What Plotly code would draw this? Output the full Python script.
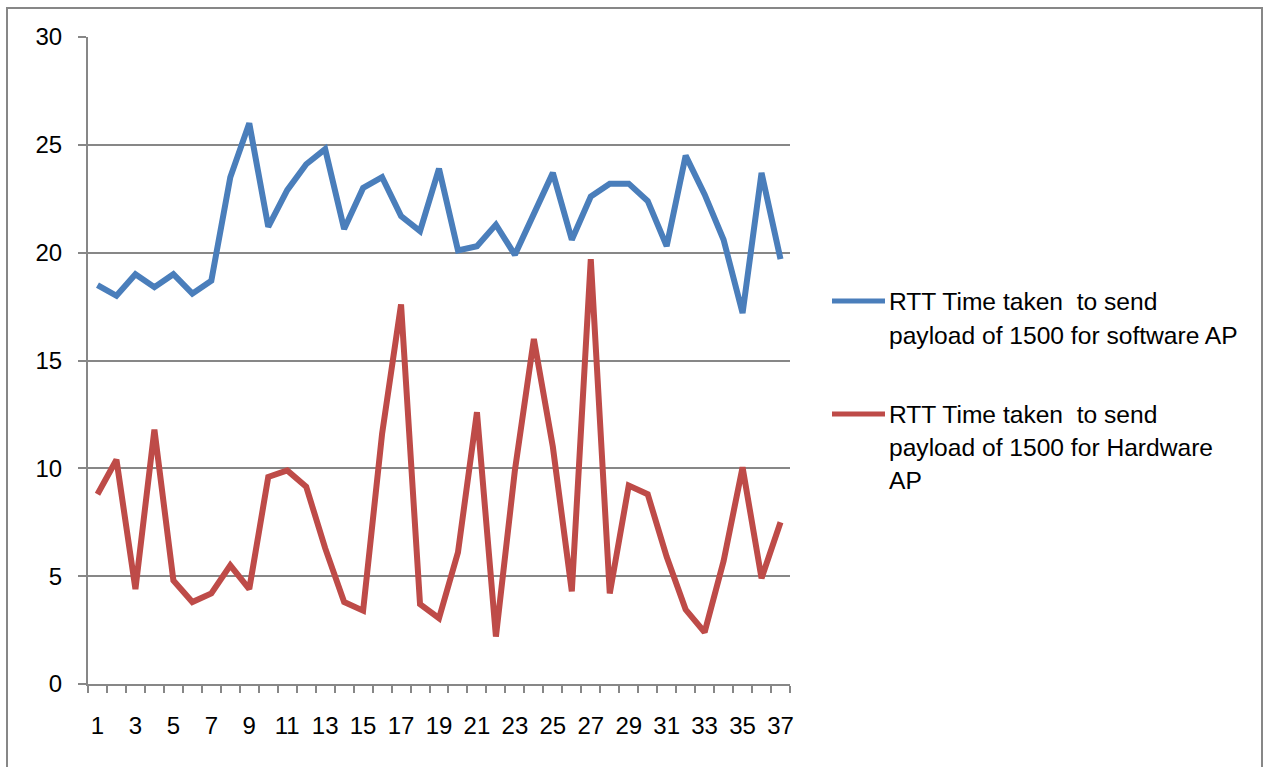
import plotly.graph_objects as go

categories = list(range(1, 38))
software_ap = [18.5, 18.0, 19.0, 18.4, 19.0, 18.1, 18.7, 23.5, 26.0, 21.2,
               22.9, 24.1, 24.8, 21.1, 23.0, 23.5, 21.7, 21.0, 23.9, 20.1,
               20.3, 21.3, 19.9, 21.8, 23.7, 20.6, 22.6, 23.2, 23.2, 22.4,
               20.3, 24.5, 22.7, 20.6, 17.2, 23.7, 19.7]
hardware_ap = [8.8, 10.4, 4.4, 11.8, 4.8, 3.8, 4.2, 5.5, 4.4, 9.6,
               9.9, 9.15, 6.3, 3.8, 3.4, 11.6, 17.6, 3.7, 3.05, 6.1,
               12.6, 2.2, 9.9, 16.0, 11.0, 4.3, 19.7, 4.2, 9.2, 8.8,
               5.9, 3.45, 2.4, 5.7, 10.05, 4.9, 7.5]
x_tick_labels = [str(c) for c in categories if c % 2 == 1]
y_ticks = [0, 5, 10, 15, 20, 25, 30]

name_sw = ["RTT Time taken  to send", "payload of 1500 for software AP"]
name_hw = ["RTT Time taken  to send", "payload of 1500 for Hardware", "AP"]

BLUE = "#4A7EBB"
RED = "#BE4B48"
GRID = "#878787"
FONT = "Liberation Sans, Arial, sans-serif"

fig = go.Figure()
fig.add_trace(go.Scatter(x=categories, y=software_ap, mode="lines",
                         line=dict(color=BLUE, width=6), name=" ".join(name_sw),
                         showlegend=False))
fig.add_trace(go.Scatter(x=categories, y=hardware_ap, mode="lines",
                         line=dict(color=RED, width=6), name=" ".join(name_hw),
                         showlegend=False))

W, H = 1269, 767
L, R, T, B = 88, 479, 37, 83
pw, ph = W - L - R, H - T - B


def px(X):
    return (X - L) / pw


def py(Y):
    return (H - B - Y) / ph


shapes = [
    dict(type="rect", xref="paper", yref="paper", x0=px(7), x1=px(1262),
         y0=py(820), y1=py(8), line=dict(color=GRID, width=2), fillcolor="rgba(0,0,0,0)"),
    dict(type="line", xref="paper", yref="paper", x0=px(832), x1=px(885),
         y0=py(301), y1=py(301), line=dict(color=BLUE, width=5)),
    dict(type="line", xref="paper", yref="paper", x0=px(832), x1=px(885),
         y0=py(414), y1=py(414), line=dict(color=RED, width=5)),
]

annotations = []
for i, t in enumerate(name_sw):
    annotations.append(dict(xref="paper", yref="paper", x=px(887), y=py(301 + 34 * i),
                            text=t, showarrow=False, xanchor="left", yanchor="middle",
                            font=dict(family=FONT, size=24.6, color="#000000")))
for i, t in enumerate(name_hw):
    annotations.append(dict(xref="paper", yref="paper", x=px(887), y=py(414 + 33 * i),
                            text=t, showarrow=False, xanchor="left", yanchor="middle",
                            font=dict(family=FONT, size=24.6, color="#000000")))

boundaries = [c - 0.5 for c in categories] + [categories[-1] + 0.5]

fig.update_layout(
    width=W, height=H,
    margin=dict(l=L, r=R, t=T, b=B),
    paper_bgcolor="white", plot_bgcolor="white",
    font=dict(family=FONT, size=24, color="#000000"),
    shapes=shapes, annotations=annotations,
    xaxis=dict(range=[0.5, 37.5], tickmode="array",
               tickvals=[c for c in categories if c % 2 == 1], ticktext=x_tick_labels,
               ticks="", showgrid=False, zeroline=False, showline=True,
               linecolor=GRID, linewidth=2, ticklabelstandoff=19,
               minor=dict(tickmode="array", tickvals=boundaries, ticks="outside",
                          ticklen=7, tickcolor=GRID, tickwidth=1.5, showgrid=False)),
    yaxis=dict(range=[0, 30], tickmode="array", tickvals=y_ticks,
               ticks="outside", ticklen=8, tickcolor=GRID, tickwidth=1.5,
               showgrid=True, gridcolor=GRID, gridwidth=1.5, zeroline=False,
               showline=True, linecolor=GRID, linewidth=2, ticklabelstandoff=11),
)

fig.write_html("out.html", config={"displayModeBar": False},
               post_script="document.body.style.margin='0';document.body.style.overflow='hidden';")
